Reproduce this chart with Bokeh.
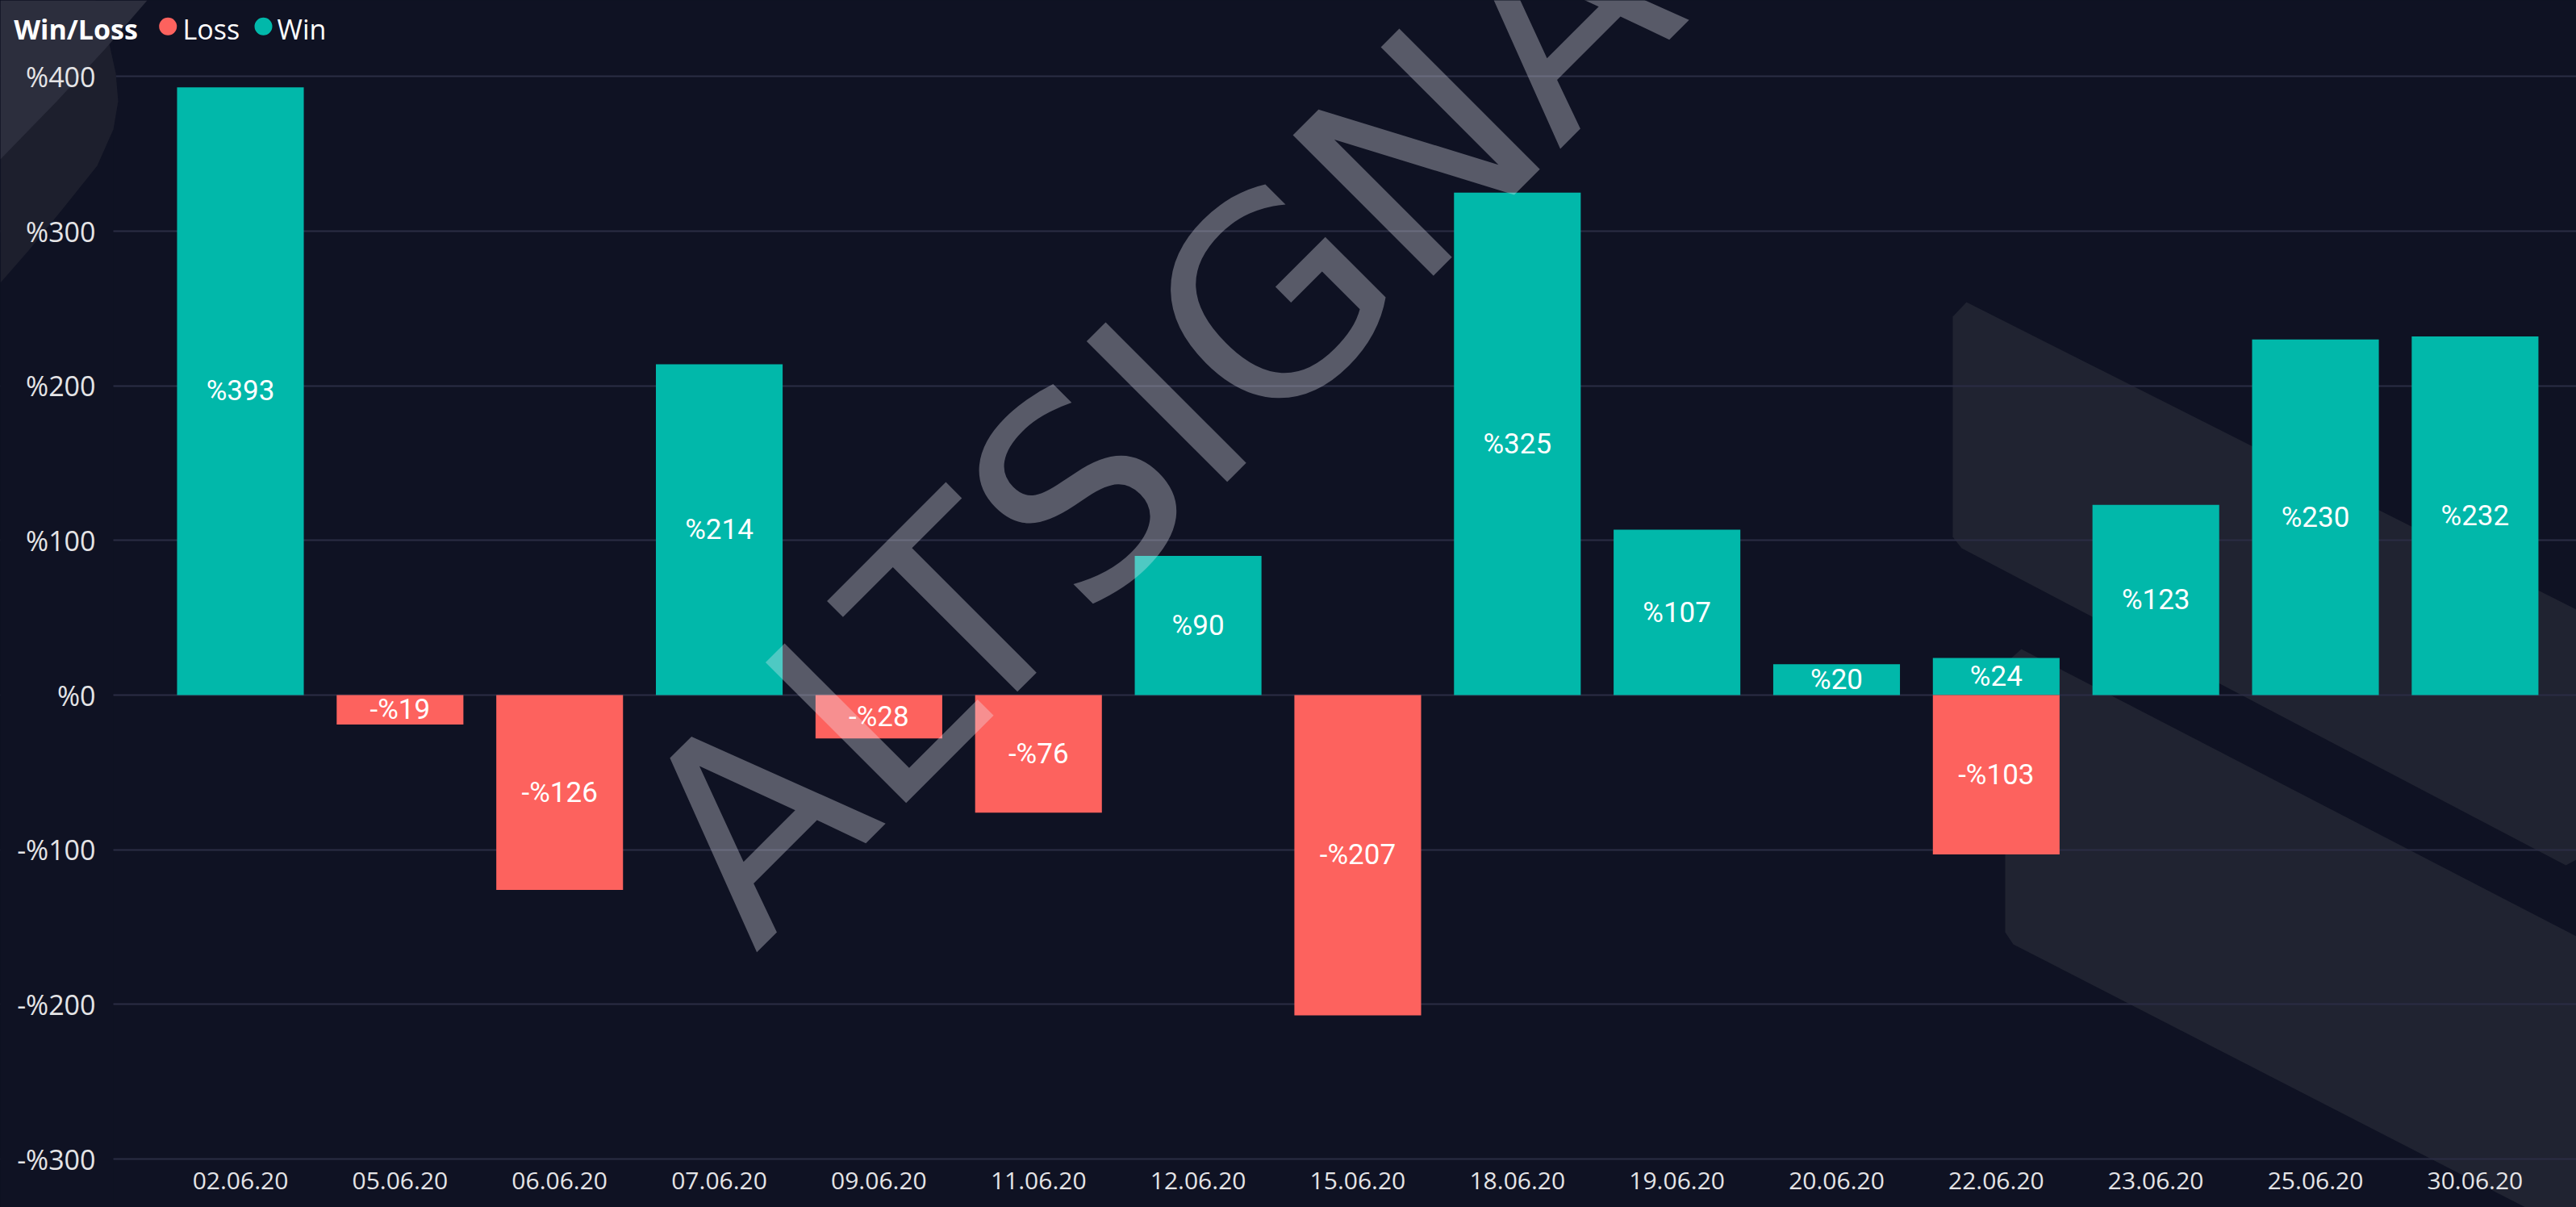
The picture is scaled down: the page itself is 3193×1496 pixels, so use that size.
from bokeh.plotting import figure
from bokeh.models import (ColumnDataSource, Range1d, FixedTicker, Label, LabelSet,
                          PolyAnnotation, BoxAnnotation)
from bokeh.core.properties import value
from bokeh.embed import file_html
from bokeh.resources import INLINE

# ---------------- data ----------------
dates = ["02.06.20", "05.06.20", "06.06.20", "07.06.20", "09.06.20", "11.06.20",
         "12.06.20", "15.06.20", "18.06.20", "19.06.20", "20.06.20", "22.06.20",
         "23.06.20", "25.06.20", "30.06.20"]
win = [393, None, None, 214, None, None, 90, None, 325, 107, 20, 24, 123, 230, 232]
loss = [None, -19, -126, None, -28, -76, None, -207, None, None, None, -103, None, None, None]
y_ticks = [-300, -200, -100, 0, 100, 200, 300, 400]
y_tick_labels = ["-%300", "-%200", "-%100", "%0", "%100", "%200", "%300", "%400"]
series_names = ["Loss", "Win"]
legend_title = "Win/Loss"

TEAL = "#01b8aa"
RED = "#fd625e"
BG = "#0f1223"

W, H = 3193, 1496
# page-pixel geometry helpers
X0, DXP, Y0, DYP = 297.5, 197.85, 861.1, 1.9168
def dx(px):
    return (px - X0) / DXP
def dy(py):
    return (Y0 - py) / DYP

p = figure(width=W, height=H, output_backend="svg", toolbar_location=None,
           x_range=Range1d(dx(0), dx(W)), y_range=Range1d(dy(H), dy(0)),
           min_border=0, min_border_left=0, min_border_right=0, min_border_top=0,
           min_border_bottom=0,
           background_fill_color=BG, border_fill_color=BG, outline_line_color=None)

# ---------------- background decorations ----------------
def poly(pts, color, level):
    pa = PolyAnnotation(xs=[dx(a) for a, b in pts], ys=[dy(b) for a, b in pts],
                        fill_color=color, fill_alpha=1.0, line_color=None, level=level)
    p.add_layout(pa)

poly([(2420, 392), (2437, 374), (3193, 755), (3193, 1065), (3180, 1072), (2431, 679), (2420, 665)], "#202331", "image")
poly([(2485, 822), (2505, 804), (3193, 1160), (3193, 1496), (3130, 1496), (2495, 1170), (2485, 1155)], "#202331", "image")

# ---------------- grid / axes ----------------
p.xgrid.grid_line_color = None
p.ygrid.grid_line_color = "#2b2d44"
p.ygrid.grid_line_width = 2
p.ygrid.ticker = FixedTicker(ticks=y_ticks)

# hide grid left of the plot area, then top-left decoration
p.add_layout(BoxAnnotation(right=dx(140), fill_color=BG, fill_alpha=1.0, line_color=None,
                           level="underlay"))
poly([(0, 0), (118, 0), (133, 45), (143, 90), (146, 125), (140, 160), (120, 205), (80, 255),
      (35, 310), (0, 350)], "#1d1f2d", "underlay")
poly([(0, 0), (182, 0), (130, 60), (70, 125), (0, 197)], "#2c2e3d", "underlay")

p.yaxis.ticker = FixedTicker(ticks=y_ticks)
p.yaxis.major_label_overrides = {t: l for t, l in zip(y_ticks, y_tick_labels)}
p.yaxis.fixed_location = dx(140)
p.xaxis.ticker = FixedTicker(ticks=list(range(len(dates))))
p.xaxis.major_label_overrides = {i: d for i, d in enumerate(dates)}
p.xaxis.fixed_location = y_ticks[0]
for ax in (p.xaxis[0], p.yaxis[0]):
    ax.axis_line_color = None
    ax.major_tick_line_color = None
    ax.minor_tick_line_color = None
    ax.major_tick_in = 0
    ax.major_tick_out = 0
    ax.major_label_text_font = "Open Sans"
    ax.major_label_text_color = "#e4e4e6"
p.yaxis.major_label_text_font_size = "34px"
p.yaxis.major_label_standoff = 22
p.xaxis.major_label_text_font_size = "30px"
p.xaxis.major_label_standoff = 16

# ---------------- bars ----------------
wi = [i for i, v in enumerate(win) if v is not None]
li = [i for i, v in enumerate(loss) if v is not None]
win_src = ColumnDataSource(dict(x=wi, top=[win[i] for i in wi],
                                mid=[win[i] / 2 for i in wi],
                                txt=["%" + str(win[i]) for i in wi]))
loss_src = ColumnDataSource(dict(x=li, top=[loss[i] for i in li],
                                 mid=[loss[i] / 2 for i in li],
                                 txt=["-%" + str(abs(loss[i])) for i in li]))
p.vbar(x="x", top="top", bottom=0, width=0.794, source=win_src, fill_color=TEAL, line_color=None)
p.vbar(x="x", top="top", bottom=0, width=0.794, source=loss_src, fill_color=RED, line_color=None)

# ---------------- watermark ----------------
wm = Label(x=dx(853), y=dy(1099), text="ALTSIGNALS", angle=45, angle_units="deg",
           text_font="DejaVu Sans", text_font_size="338px", text_color="#eeeef5",
           text_alpha=0.33, text_align="left", text_baseline="alphabetic")
p.add_layout(wm)

# ---------------- bar labels ----------------
for src in (win_src, loss_src):
    ls = LabelSet(x="x", y="mid", text="txt", source=src, text_align="center",
                  text_baseline="middle", text_color="white",
                  text_font=value("Roboto"), text_font_size=value("35px"))
    p.add_layout(ls)

# ---------------- legend ----------------
p.add_layout(Label(x=dx(16.7), y=dy(35), text=legend_title, text_font="Open Sans",
                   text_font_style="bold", text_font_size="34px", text_color="white",
                   text_baseline="alphabetic"))
p.scatter(x=[dx(207.7)], y=[dy(32.3)], size=22, fill_color=RED, line_color=None)
p.scatter(x=[dx(326)], y=[dy(32.3)], size=22, fill_color=TEAL, line_color=None)
p.add_layout(Label(x=dx(226), y=dy(35), text=series_names[0], text_font="Open Sans",
                   text_font_size="34px", text_color="white", text_baseline="alphabetic"))
p.add_layout(Label(x=dx(343), y=dy(35), text=series_names[1], text_font="Open Sans",
                   text_font_size="34px", text_color="white", text_baseline="alphabetic"))

template = """{% block postamble %}<style>html, body { margin: 0; padding: 0; overflow: hidden; background-color: #0f1223; }</style>{% endblock %}"""
open("out.html", "w").write(file_html(p, INLINE, template=template))
